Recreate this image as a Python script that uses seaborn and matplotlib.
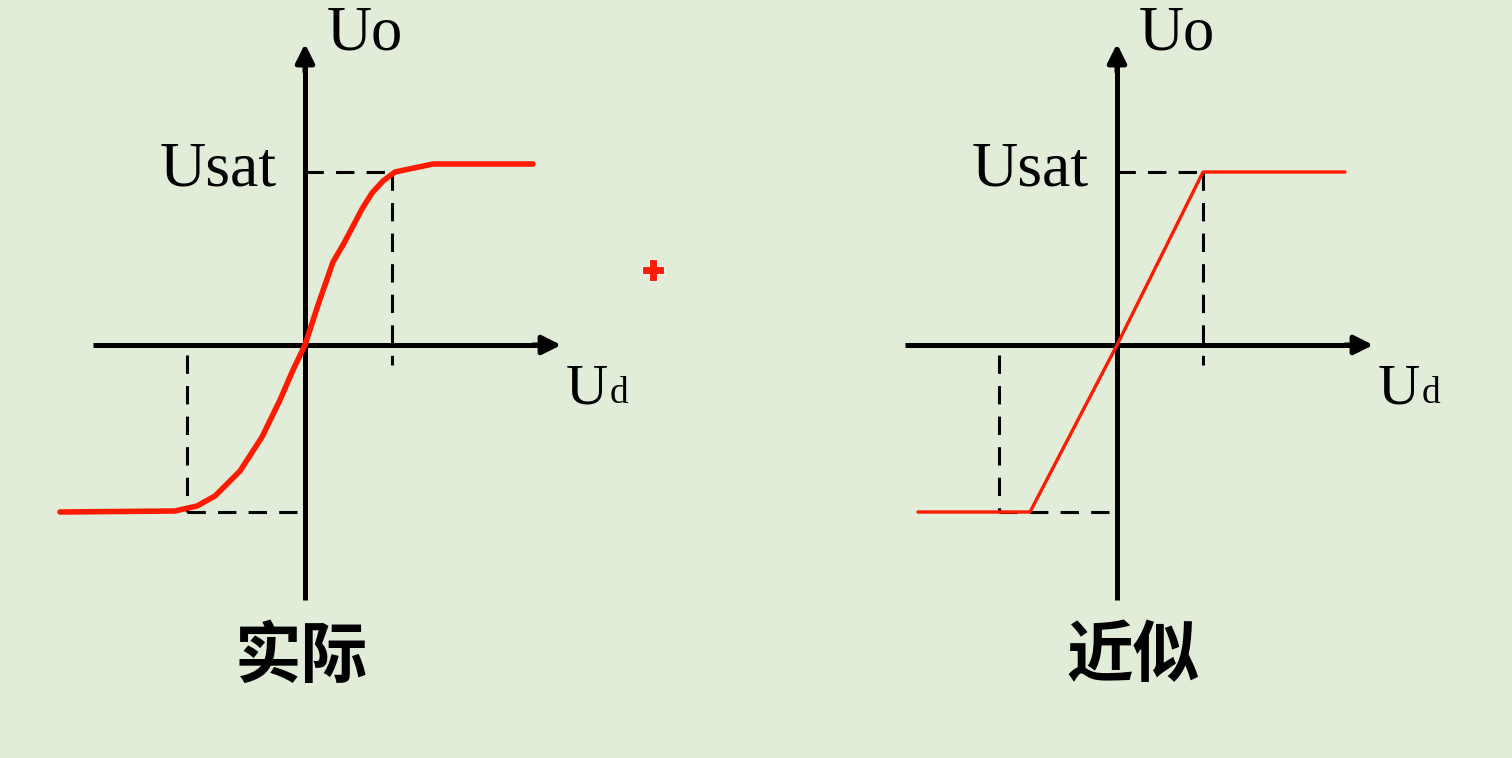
import numpy as np
import pandas as pd
import matplotlib.pyplot as plt
import seaborn as sns

# transfer curves, in pixel-ish units measured from the origin of each diagram
ud_actual = [-245, -130, -108, -90, -65, -43, -25, -12, 0, 13, 28, 38, 47, 57, 67, 78, 90, 128, 228]
uo_actual = [-167, -166, -161, -151, -126, -92, -55, -25, 0, 40, 83, 100, 117, 136, 152, 164, 173, 181, 181]
ud_approx = [-199, -87, 0, 86, 228]
uo_approx = [-167, -167, 0, 173, 173]

usat_pos = 173
usat_neg = -167
ud_sat_pos = [87, 86]
ud_sat_neg = -118
titles = ["实际", "近似"]

bg = "#E1EDD9"
sns.set_theme(style="white")
plt.rcParams['font.family'] = ['Noto Sans CJK SC', 'DejaVu Sans']

fig = plt.figure(figsize=(15.12, 7.58), dpi=100, facecolor=bg)
ax_l = fig.add_axes([0, 0, 0.5, 1])
ax_r = fig.add_axes([0.5, 0, 0.5, 1])
origins_x = [305, 1117 - 756]

curves = [
    pd.DataFrame({"ud": ud_actual, "uo": uo_actual}),
    pd.DataFrame({"ud": ud_approx, "uo": uo_approx}),
]
red_lw = [4.0, 2.4]

for i, ax in enumerate([ax_l, ax_r]):
    ox = origins_x[i]
    ax.set_xlim(-ox, 756 - ox)
    ax.set_ylim(-(758 - 345), 345)
    ax.set_facecolor(bg)
    ax.axis("off")

    # axes with arrows
    ax.plot([0, 0], [-255, 285], color="black", lw=3.6, solid_capstyle="butt")
    ax.annotate("", xy=(0, 304), xytext=(0, 270),
                arrowprops=dict(arrowstyle="-|>", color="black", lw=3.6, mutation_scale=28))
    ax.plot([-212, 240], [0, 0], color="black", lw=3.6, solid_capstyle="butt")
    ax.annotate("", xy=(259, 0), xytext=(225, 0),
                arrowprops=dict(arrowstyle="-|>", color="black", lw=3.6, mutation_scale=28))

    # dashed guides
    dash = dict(color="black", lw=2.2, dashes=(6, 4))
    xs = ud_sat_pos[i]
    ax.plot([0, xs], [usat_pos, usat_pos], **dash)
    ax.plot([xs, xs], [usat_pos, -20], **dash)
    ax.plot([ud_sat_neg, 0], [usat_neg, usat_neg], **dash)
    ax.plot([ud_sat_neg, ud_sat_neg], [-10, usat_neg], **dash)

    sns.lineplot(data=curves[i], x="ud", y="uo", sort=False, ax=ax,
                 color="#FF1A00", lw=red_lw[i], estimator=None)
    ax.set_xlabel("")
    ax.set_ylabel("")

    serif = ["Liberation Serif", "DejaVu Serif"]
    ax.text(22, 295, "Uo", family=serif, fontsize=45, color="black", ha="left", va="baseline")
    ax.text(-28, 160, "Usat", family=serif, fontsize=46, color="black", ha="right", va="baseline")
    ax.text(261, -58, "U", family=serif, fontsize=42, color="black", ha="left", va="baseline")
    ax.text(305, -58, "d", family=serif, fontsize=27, color="black", ha="left", va="baseline")
    ax.text([-4, 16][i], -312, titles[i], fontsize=48, fontweight="heavy", color="black",
            ha="center", va="center")

# small red cross between the diagrams
ax_l.plot([348], [75], marker="P", markersize=16, color="#FF1A00",
          markeredgecolor="#FFF6F2", markeredgewidth=0.8)

fig.savefig("out.png", dpi=100, facecolor=bg)
